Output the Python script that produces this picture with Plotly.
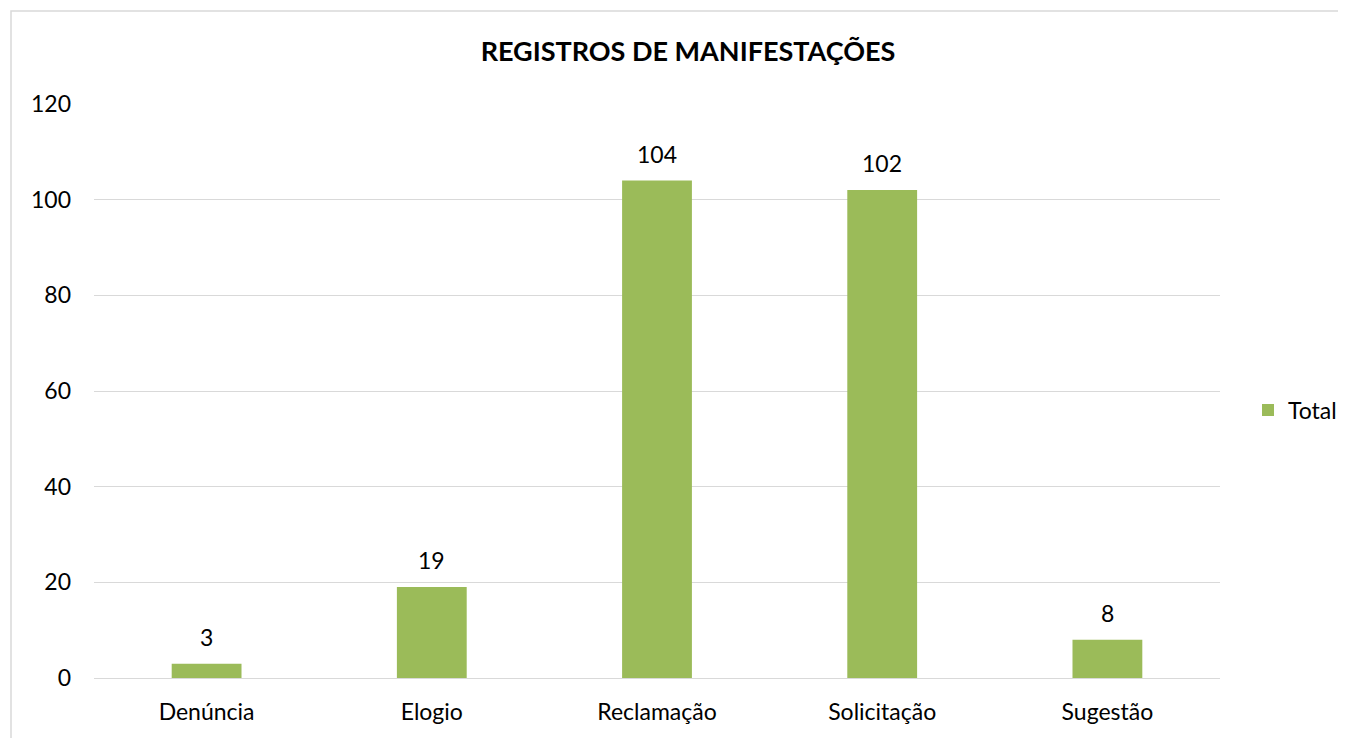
import plotly.graph_objects as go

categories = ["Denúncia", "Elogio", "Reclamação", "Solicitação", "Sugestão"]
values = [3, 19, 104, 102, 8]
series_name = "Total"
y_ticks = [0, 20, 40, 60, 80, 100, 120]

FONT = "Lato, 'Open Sans', sans-serif"
GREEN = "#9bbb59"
GRID = "#d9d9d9"
OFF = 8  # page body offset

L, R, T, B = 94 - OFF, 1346 - 1220 + OFF, 104 - OFF, 738 - 678 + OFF
PW, PH = 1346 - L - R, 738 - T - B

fig = go.Figure()
fig.add_trace(go.Bar(
    x=categories, y=values, name=series_name,
    marker=dict(color=GREEN, line=dict(width=0)),
    showlegend=True,
))

for c, v in zip(categories, values):
    fig.add_annotation(x=c, y=v, text=str(v), showarrow=False,
                       xref="x", yref="y", yanchor="bottom", yshift=11,
                       font=dict(family=FONT, size=23, color="#000000"))

fig.update_layout(
    width=1346, height=738,
    margin=dict(l=L, r=R, t=T, b=B, autoexpand=False),
    paper_bgcolor="white", plot_bgcolor="white",
    bargap=0.69,
    font=dict(family=FONT, size=23, color="#000000"),
    title=dict(text="<b>REGISTROS DE MANIFESTAÇÕES</b>",
               x=(688 - 94) / PW, xref="paper", xanchor="center",
               y=1 - (52 - OFF) / 738, yref="container", yanchor="middle",
               font=dict(family=FONT, size=27, color="#000000")),
    legend=dict(x=(1248 - 94) / PW, y=(678 - 410) / PH, xanchor="left", yanchor="middle",
                font=dict(family=FONT, size=23), itemwidth=30,
                bgcolor="rgba(0,0,0,0)"),
    shapes=[dict(type="rect", xref="paper", yref="paper",
                 x0=(11 - 94) / PW, x1=(1400 - 94) / PW,
                 y0=(678 - 800) / PH, y1=(678 - 11) / PH,
                 line=dict(color=GRID, width=1.5), fillcolor="rgba(0,0,0,0)",
                 layer="below")],
)

fig.update_yaxes(range=[0, 120], tickvals=y_ticks, showgrid=True, gridcolor=GRID,
                 gridwidth=1, zeroline=True, zerolinecolor=GRID, zerolinewidth=1,
                 showline=False, ticks="", ticklabelstandoff=22,
                 tickfont=dict(family=FONT, size=23, color="#000000"))
fig.update_xaxes(showgrid=False, showline=True, linecolor=GRID, linewidth=1,
                 ticks="", ticklabelstandoff=13,
                 tickfont=dict(family=FONT, size=23, color="#000000"))

fig.write_html("out.html")
